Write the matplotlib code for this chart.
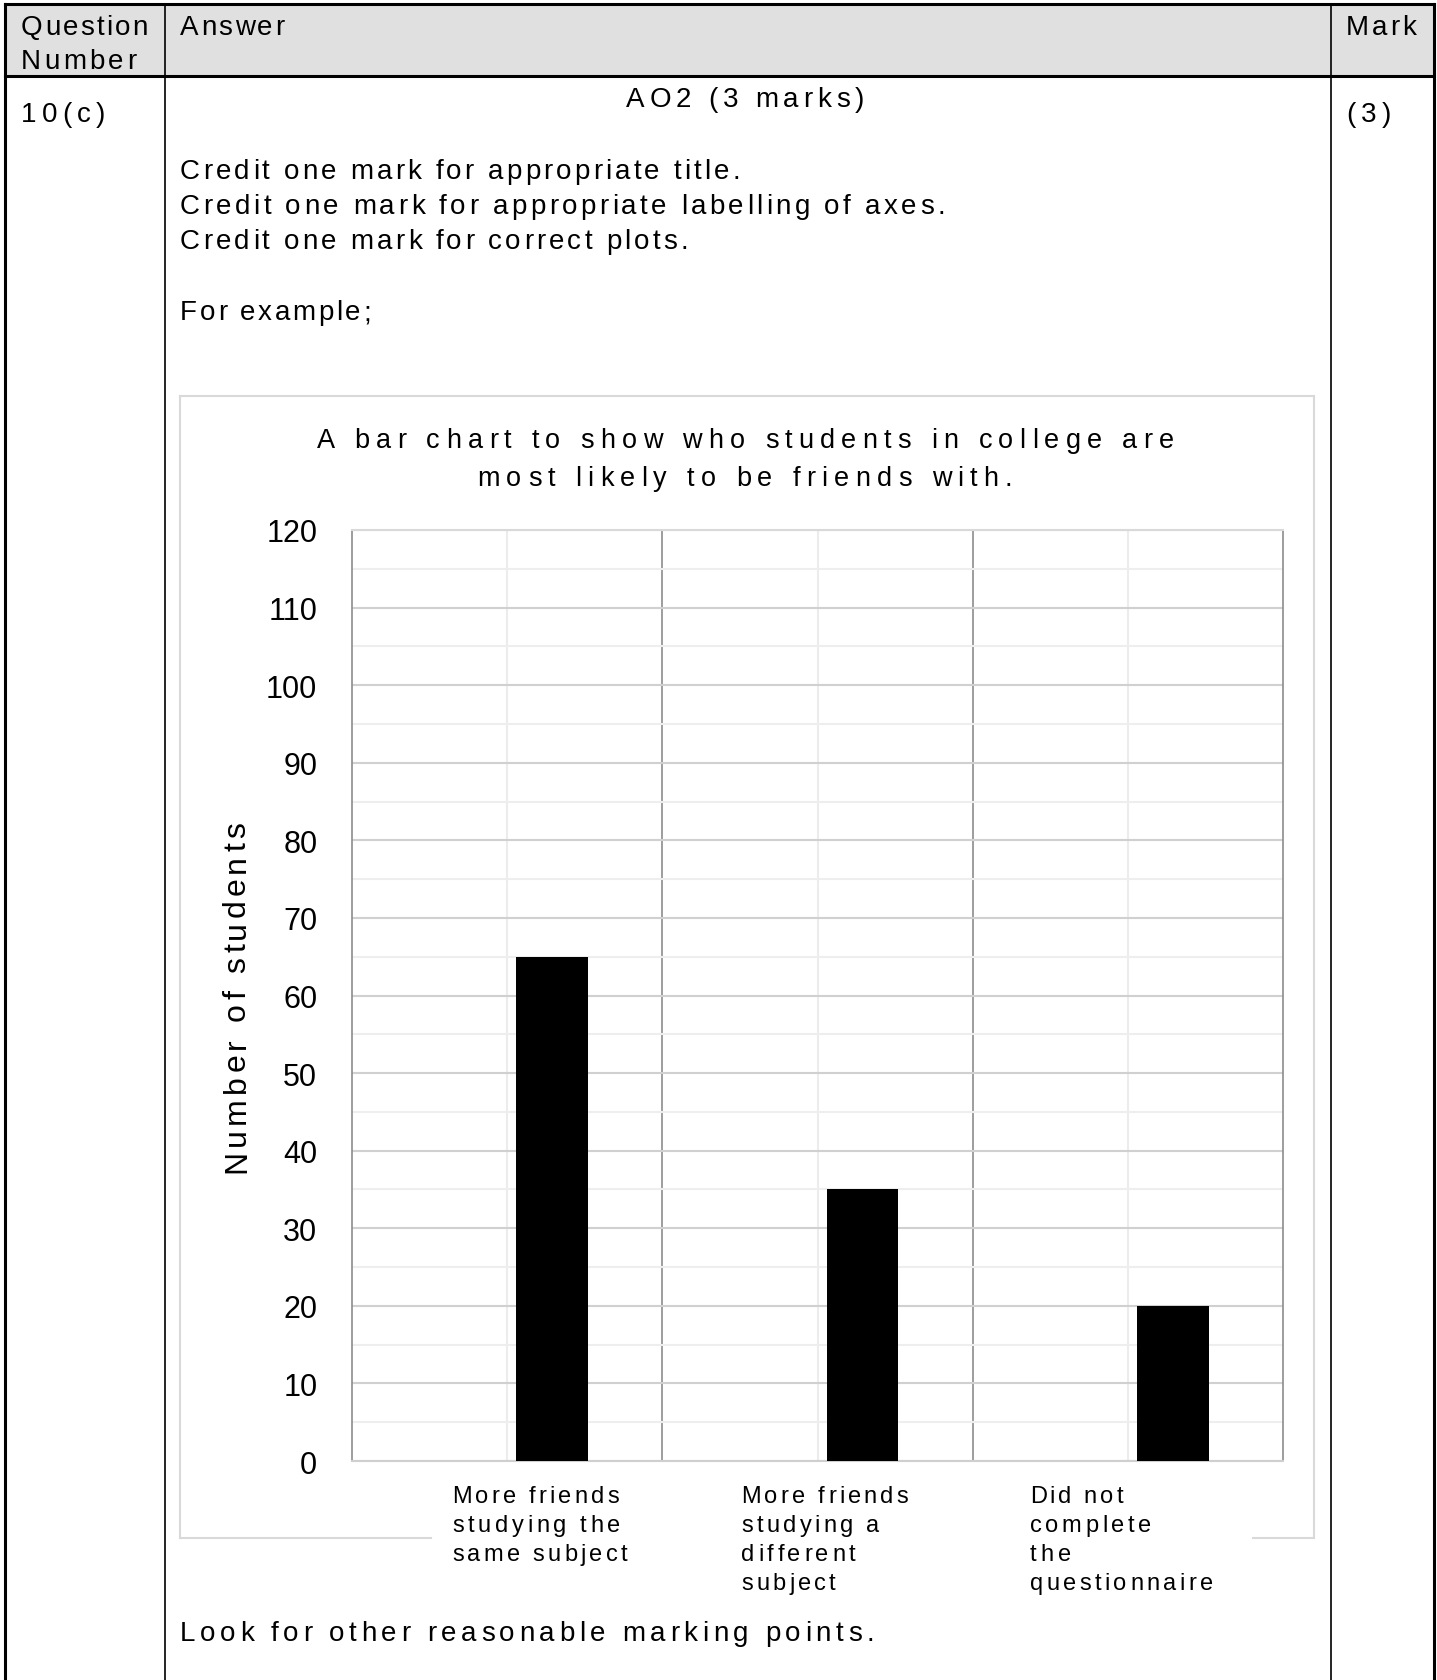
import matplotlib
matplotlib.use("Agg")
import matplotlib.pyplot as plt
from matplotlib.lines import Line2D
from matplotlib.patches import Rectangle
from matplotlib import font_manager
from matplotlib.ft2font import FT2Font
import numpy as np

plt.rcParams['font.family'] = ['Liberation Sans', 'DejaVu Sans']

# data
categories = ["More friends\nstudying the\nsame subject",
              "More friends\nstudying a\ndifferent\nsubject",
              "Did not\ncomplete\nthe\nquestionnaire"]
students = [65, 35, 20]
y_ticks = list(range(0, 121, 10))
label_shift = [-0.177, -0.245, -0.316]
# widths (px) of each label line in the scanned sheet, which has wide letter spacing
label_widths = [[167, 168, 175], [167, 138, 114, 94], [93, 121, 41, 183]]

W, H = 1437, 1681
fig = plt.figure(figsize=(W / 100, H / 100), dpi=100)

def fx(px):
    return px / W

def fy(py):
    return 1 - py / H

def hline(x0, x1, y, **kw):
    fig.add_artist(Line2D([fx(x0), fx(x1)], [fy(y), fy(y)], transform=fig.transFigure, **kw))

def vline(x, y0, y1, **kw):
    fig.add_artist(Line2D([fx(x), fx(x)], [fy(y0), fy(y1)], transform=fig.transFigure, **kw))

# letter-spaced text, drawn char by char
ft = FT2Font(font_manager.findfont(font_manager.FontProperties(family="Liberation Sans")))

def advances(s, size):
    ft.set_size(size, 100)
    return [ft.load_char(ord(c)).linearHoriAdvance / 65536 for c in s]

def spaced(x, y, s, size, width, ha="left", rotate=False):
    adv = advances(s, size)
    gap = (width - sum(adv)) / max(len(s) - 1, 1)
    total = sum(adv) + gap * (len(s) - 1)
    pos = x - total / 2 if ha == "center" else x
    if rotate:
        pos = y
    for c, a in zip(s, adv):
        if rotate:
            fig.text(fx(x), fy(pos), c, fontsize=size, rotation=90, rotation_mode="anchor",
                     ha="left", va="baseline")
            pos -= a + gap
        else:
            fig.text(fx(pos), fy(y), c, fontsize=size, ha="left", va="baseline")
            pos += a + gap

# table frame
fig.add_artist(Rectangle((fx(5), fy(77)), fx(1434) - fx(5), fy(5) - fy(77),
                         transform=fig.transFigure, facecolor="#e0e0e0", edgecolor="none", zorder=0))
hline(5, 1434, 5, color="black", lw=2.2)
hline(5, 1434, 77, color="black", lw=2.2)
vline(5, 5, H, color="black", lw=2.2)
vline(1434, 5, H, color="black", lw=2.2)
vline(165, 5, H, color="black", lw=1.2)
vline(1331, 5, H, color="black", lw=1.2)

fs = 20
spaced(21, 35, "Question", fs, 127)
spaced(21, 69, "Number", fs, 115)
spaced(180, 35, "Answer", fs, 104)
spaced(1346, 35, "Mark", fs, 70)
spaced(21, 122, "10(c)", fs, 84)
spaced(1346, 122, "(3)", fs, 45)
spaced(745, 107, "AO2 (3 marks)", fs, 238, ha="center")
spaced(180, 179, "Credit one mark for appropriate title.", fs, 560)
spaced(180, 214, "Credit one mark for appropriate labelling of axes.", fs, 765)
spaced(180, 249, "Credit one mark for correct plots.", fs, 508)
spaced(180, 320, "For example;", fs, 191)
spaced(180, 1641, "Look for other reasonable marking points.", fs, 694)

# chart box
box = "#d9d9d9"
hline(180, 1314, 397, color=box, lw=1.5)
vline(180, 397, 1539, color=box, lw=1.5)
vline(1314, 397, 1539, color=box, lw=1.5)
hline(180, 431, 1539, color=box, lw=1.5)
hline(1253, 1314, 1539, color=box, lw=1.5)

spaced(745, 448, "A bar chart to show who students in college are", 19.5, 857, ha="center")
spaced(745, 486, "most likely to be friends with.", 19.5, 535, ha="center")

# plot
ax = fig.add_axes([fx(352), fy(1462), (1283 - 352) / W, (1462 - 531) / H])
x = np.arange(len(students))
ax.set_xlim(-0.5, len(students) - 0.5)
ax.set_ylim(0, 120)
ax.set_yticks(y_ticks)
ax.set_yticks(range(5, 120, 10), minor=True)
ax.set_xticks(x)
ax.set_xticklabels([])
ax.tick_params(axis="both", which="both", length=0)
ax.tick_params(axis="y", labelsize=22, pad=25)
ax.grid(axis="y", which="major", color="#d0d0d0", lw=1.5, zorder=0)
ax.grid(axis="y", which="minor", color="#eeeeee", lw=1.5, zorder=0)
ax.grid(axis="x", which="major", color="#ececec", lw=1.5, zorder=0)
for b in x[:-1] + 0.5:
    ax.axvline(b, color="#8c8c8c", lw=1.2, zorder=1)
for side in ["left", "right"]:
    ax.spines[side].set_color("#8c8c8c")
    ax.spines[side].set_linewidth(1.2)
ax.spines["top"].set_color("#d9d9d9")
ax.spines["top"].set_linewidth(1.5)
ax.spines["bottom"].set_color("#cfcfcf")
ax.spines["bottom"].set_linewidth(1.5)

ax.bar(x + 0.03, students, width=0.23, align="edge", color="black", zorder=3)

# y label, letter spaced
spaced(245, 1173, "Number of students", 23, 351, rotate=True)

# category labels below the axis
for i, lab in enumerate(categories):
    left = ax.transData.transform((x[i] + label_shift[i], 0))[0]
    for j, line in enumerate(lab.split("\n")):
        spaced(left, 1503 + 29 * j, line, 17, label_widths[i][j])

fig.savefig("out.png", dpi=100)
